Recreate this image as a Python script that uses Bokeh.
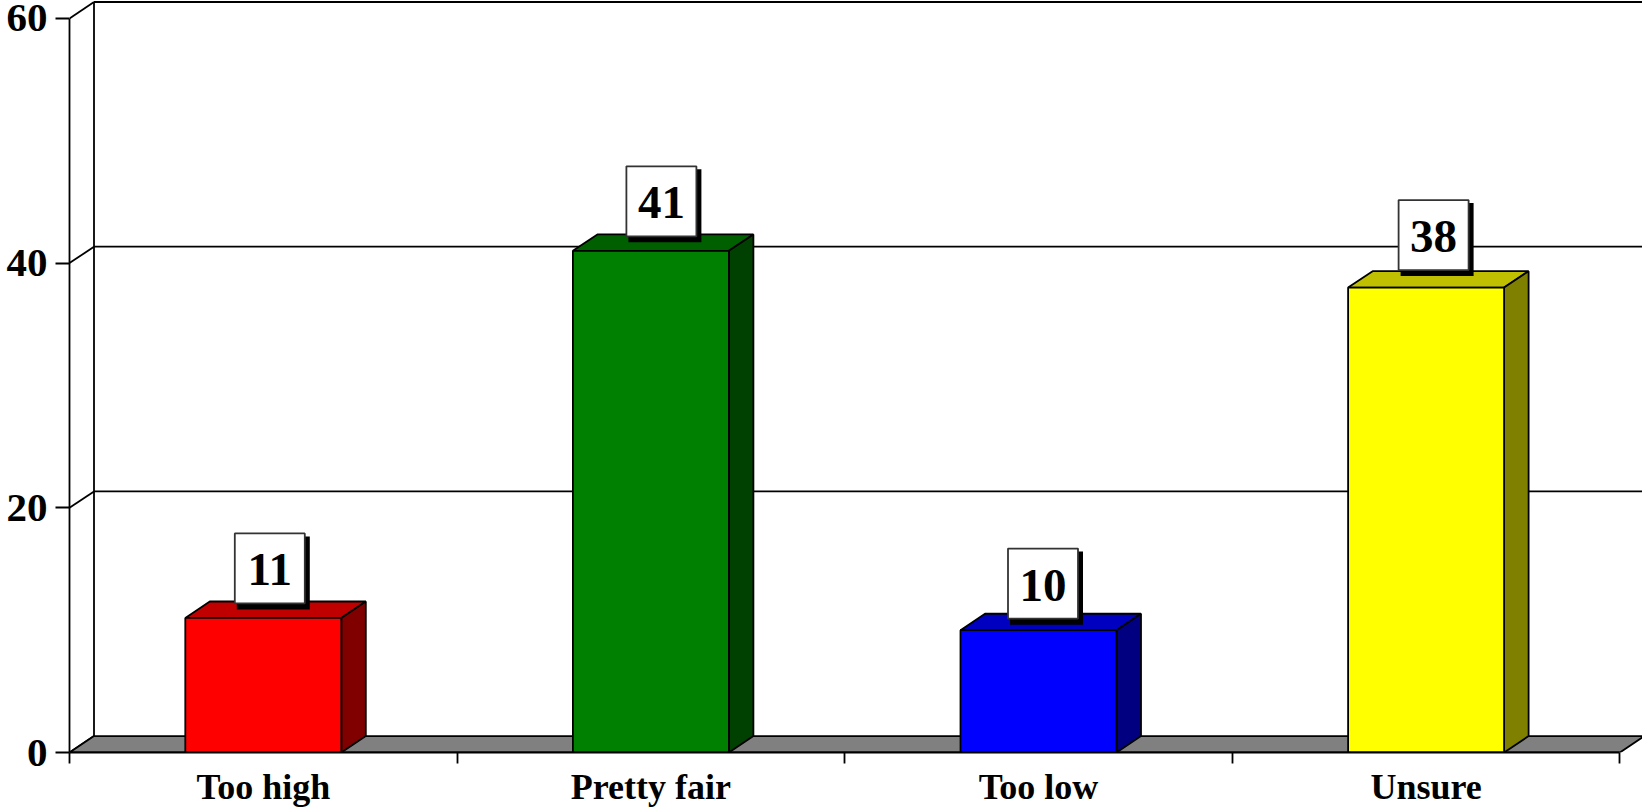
from bokeh.plotting import figure
from bokeh.embed import file_html
from bokeh.resources import INLINE
from bokeh.models import FixedTicker, Range1d
from bokeh.core.properties import value

categories = ["Too high", "Pretty fair", "Too low", "Unsure"]
values = [11, 41, 10, 38]
front_colors = ["#ff0000", "#008000", "#0000ff", "#ffff00"]
top_colors = ["#c00000", "#006000", "#0000c0", "#c0c000"]
side_colors = ["#800000", "#004000", "#000080", "#808000"]
y_ticks = [0, 20, 40, 60]
label_nudge_y_px = [0, 0, -3, 3]
label_nudge_x_px = [-1, 3, -3, 0]

W, H = 1642, 808
LEFT, BOTTOM_PX = 69, 751.7
CAT_PX, UNIT_PX = 387.6, 12.23
DX_PX, DY_PX = 24.5, 16.4
dx, dy = DX_PX / CAT_PX, DY_PX / UNIT_PX
bar_w = 156 / CAT_PX
n = len(categories)
FONT = "Liberation Serif"
LW = 1.8

p = figure(width=W, height=H, output_backend="svg", toolbar_location=None,
           frame_width=W - LEFT, frame_height=int(round(BOTTOM_PX)),
           min_border_left=LEFT, min_border_right=0, min_border_top=0,
           min_border_bottom=H - int(round(BOTTOM_PX)),
           x_range=Range1d(0, (W - LEFT) / CAT_PX),
           y_range=Range1d(0, BOTTOM_PX / UNIT_PX),
           margin=(0, 0, 0, 0), outline_line_color=None,
           background_fill_color="white", border_fill_color="white")
p.grid.visible = False

# back wall and side wall lines
xr_end = (W - LEFT) / CAT_PX
grid_v = y_ticks[1:]
p.segment(x0=[dx] * len(grid_v), x1=[xr_end] * len(grid_v),
          y0=[v + dy for v in grid_v], y1=[v + dy for v in grid_v],
          line_color="black", line_width=LW)
p.segment(x0=[dx], x1=[dx], y0=[dy], y1=[y_ticks[-1] + dy], line_color="black", line_width=LW)
p.segment(x0=[0] * len(y_ticks), x1=[dx] * len(y_ticks),
          y0=y_ticks, y1=[v + dy for v in y_ticks], line_color="black", line_width=LW)

# floor
p.patch(x=[0, n, n + dx, dx], y=[0, 0, dy, dy], fill_color="#808080",
        line_color="black", line_width=LW)

# bars
cx = [i + 0.5 for i in range(n)]
l = [c - bar_w / 2 for c in cx]
r = [c + bar_w / 2 for c in cx]
p.patches(xs=[[a, b, b + dx, a + dx] for a, b in zip(l, r)],
          ys=[[v, v, v + dy, v + dy] for v in values],
          fill_color=top_colors, line_color="black", line_width=LW)
p.patches(xs=[[b, b + dx, b + dx, b] for b in r],
          ys=[[0, dy, v + dy, v] for v in values],
          fill_color=side_colors, line_color="black", line_width=LW)
p.quad(left=l, right=r, bottom=[0] * n, top=values, fill_color=front_colors,
       line_color="black", line_width=LW)

# value labels
box_cx = [c + (7.5 + nudge) / CAT_PX for c, nudge in zip(cx, label_nudge_x_px)]
box_cy = [v + (14 + 35.5 + nudge) / UNIT_PX for v, nudge in zip(values, label_nudge_y_px)]
p.rect(x=[c + 3.5 / CAT_PX for c in box_cx], y=[c - 4.5 / UNIT_PX for c in box_cy],
       width=73 / CAT_PX, height=73 / UNIT_PX, fill_color="black", line_color=None)
p.rect(x=box_cx, y=box_cy, width=70 / CAT_PX, height=70 / UNIT_PX,
       fill_color="white", line_color="#333333", line_width=LW)
p.text(x=box_cx, y=[c - 1.5 / UNIT_PX for c in box_cy], text=[str(v) for v in values],
       text_font=value(FONT), text_font_style="bold", text_font_size="47px",
       text_align="center", text_baseline="middle", text_color="black")

# axes
ya = p.yaxis[0]
ya.ticker = FixedTicker(ticks=y_ticks)
ya.bounds = (0, y_ticks[-1])
ya.major_tick_out = 14
ya.major_tick_in = 0
ya.minor_tick_line_color = None
ya.major_label_standoff = 8
ya.axis_line_color = "black"
ya.axis_line_width = LW
ya.major_tick_line_color = "black"
ya.major_tick_line_width = LW
ya.major_label_text_font = FONT
ya.major_label_text_font_style = "bold"
ya.major_label_text_font_size = "41px"
ya.major_label_text_color = "black"

xa = p.xaxis[0]
xa.ticker = FixedTicker(ticks=cx, minor_ticks=list(range(n + 1)))
xa.major_label_overrides = {c: t for c, t in zip(cx, categories)}
xa.bounds = (0, n)
xa.major_tick_line_color = None
xa.major_tick_in = 0
xa.major_tick_out = 0
xa.minor_tick_in = 0
xa.minor_tick_out = 11
xa.minor_tick_line_color = "black"
xa.minor_tick_line_width = LW
xa.axis_line_color = "black"
xa.axis_line_width = LW
xa.major_label_standoff = 3
xa.major_label_text_font = FONT
xa.major_label_text_font_style = "bold"
xa.major_label_text_font_size = "36px"
xa.major_label_text_color = "black"

open("out.html", "w").write(file_html(p, INLINE))
